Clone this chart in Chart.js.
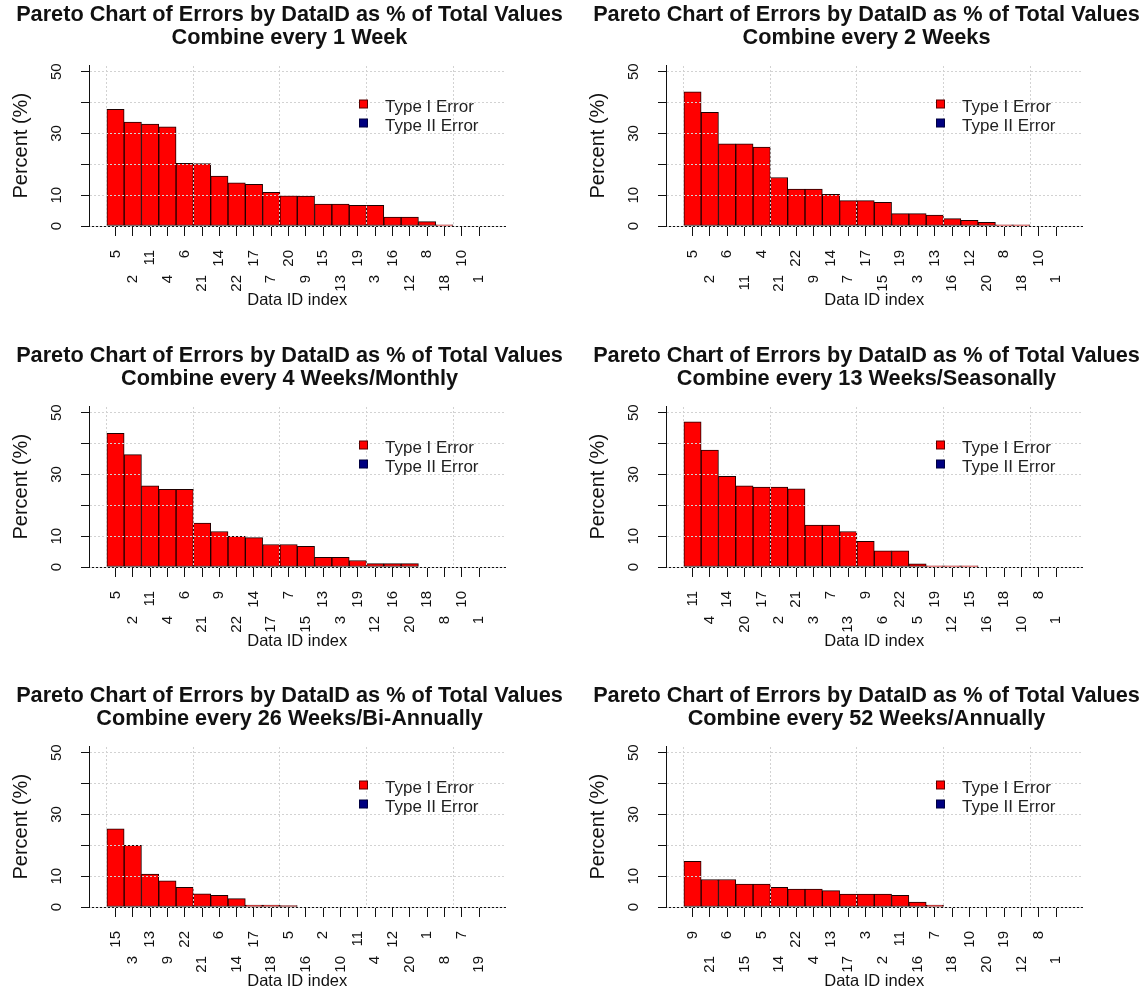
<!DOCTYPE html>
<html>
<head>
<meta charset="utf-8">
<title>Pareto Chart of Errors by DataID</title>
<script src="https://cdn.jsdelivr.net/npm/chart.js@4.4.1/dist/chart.umd.min.js"></script>
<style>
  html, body { margin: 0; padding: 0; background: #fff; }
  #page { position: relative; width: 1145px; height: 990px; overflow: hidden; background: #fff; }
  .panel { position: absolute; width: 579px; height: 341px; }
</style>
</head>
<body>
<div id="page">
  <div class="panel" style="left:0px;top:0px"><canvas id="c1" width="579" height="341"></canvas></div>
  <div class="panel" style="left:577px;top:0px"><canvas id="c2" width="579" height="341"></canvas></div>
  <div class="panel" style="left:0px;top:341px"><canvas id="c3" width="579" height="341"></canvas></div>
  <div class="panel" style="left:577px;top:341px"><canvas id="c4" width="579" height="341"></canvas></div>
  <div class="panel" style="left:0px;top:681px"><canvas id="c5" width="579" height="341"></canvas></div>
  <div class="panel" style="left:577px;top:681px"><canvas id="c6" width="579" height="341"></canvas></div>
</div>
<script>
// values (percent of total values)
const mainTitle = "Pareto Chart of Errors by DataID as % of Total Values";

const ids1Week = [5, 2, 11, 4, 6, 21, 14, 22, 17, 7, 20, 9, 15, 13, 19, 3, 16, 12, 8, 18, 10, 1];
const pct1Week = [37.8, 33.7, 33.0, 32.1, 20.3, 20.2, 16.2, 14.0, 13.5, 10.9, 9.8, 9.7, 7.1, 7.1, 6.7, 6.7, 2.9, 2.9, 1.4, 0.4, 0, 0];

const ids2Weeks = [5, 2, 6, 11, 4, 21, 22, 9, 14, 7, 17, 15, 19, 3, 13, 16, 12, 20, 8, 18, 10, 1];
const pct2Weeks = [43.5, 36.8, 26.6, 26.6, 25.6, 15.7, 12.0, 12.0, 10.3, 8.2, 8.2, 7.7, 4.0, 4.0, 3.5, 2.4, 1.8, 1.2, 0.4, 0.4, 0, 0];

const ids4Weeks = [5, 2, 11, 4, 6, 21, 9, 22, 14, 17, 7, 15, 13, 3, 19, 12, 16, 20, 18, 8, 10, 1];
const pct4Weeks = [43.3, 36.4, 26.3, 25.2, 25.2, 14.2, 11.5, 9.9, 9.5, 7.3, 7.3, 6.7, 3.1, 3.1, 2.1, 1.1, 1.1, 1.1, 0, 0, 0, 0];

const ids13Weeks = [11, 4, 14, 20, 17, 2, 21, 3, 7, 13, 9, 6, 22, 5, 19, 12, 15, 16, 18, 10, 8, 1];
const pct13Weeks = [47.0, 37.9, 29.4, 26.3, 25.9, 25.9, 25.3, 13.6, 13.6, 11.5, 8.3, 5.2, 5.2, 1.0, 0.4, 0.4, 0.4, 0, 0, 0, 0, 0];

const ids26Weeks = [15, 3, 13, 9, 22, 21, 6, 14, 17, 18, 5, 16, 2, 10, 11, 4, 12, 20, 1, 8, 7, 19];
const pct26Weeks = [25.3, 20.0, 10.7, 8.5, 6.4, 4.3, 3.8, 2.7, 0.6, 0.6, 0.5, 0, 0, 0, 0, 0, 0, 0, 0, 0, 0, 0];

const ids52Weeks = [9, 21, 6, 15, 5, 14, 22, 4, 13, 17, 3, 2, 11, 16, 7, 18, 10, 20, 19, 12, 8, 1];
const pct52Weeks = [14.8, 8.9, 8.9, 7.4, 7.4, 6.4, 5.8, 5.8, 5.3, 4.2, 4.2, 4.2, 3.8, 1.6, 0.6, 0, 0, 0, 0, 0, 0, 0];

// no Type II errors show in any panel
const typeII = [0, 0, 0, 0, 0, 0, 0, 0, 0, 0, 0, 0, 0, 0, 0, 0, 0, 0, 0, 0, 0, 0];

const yTicks = [0, 10, 20, 30, 40, 50];
const yTickLabels = ["0", "10", "", "30", "", "50"];
const gridBreaks = [0, 5, 10, 15, 20];

const FONT = "'Liberation Sans', Arial, Helvetica, sans-serif";
const INK = "#111";
const GRID = "#d2d2d2";

Chart.defaults.font.family = FONT;
Chart.defaults.color = INK;

// R-style legend sitting inside the plot, top right
const insetLegend = {
    id: "insetLegend",
    afterDraw(chart) {
        const { ctx, chartArea } = chart;
        ctx.save();
        ctx.font = "17px " + FONT;
        ctx.textBaseline = "middle";
        ctx.textAlign = "left";
        chart.data.datasets.forEach((ds, i) => {
            const cx = chartArea.right - 142;
            const cy = chartArea.top + 38.5 + i * 19;
            ctx.fillStyle = ds.backgroundColor;
            ctx.fillRect(cx - 4, cy - 4, 8, 8);
            ctx.strokeStyle = ds.legendEdge;
            ctx.lineWidth = 1;
            ctx.strokeRect(cx - 4, cy - 4, 8, 8);
            ctx.fillStyle = "#222";
            ctx.fillText(ds.label, chartArea.right - 120.5, cy + 3.5);
        });
        ctx.restore();
    }
};

function makePareto(canvasId, subtitle, ids, pct) {
    const xMin = -1.03;
    const xMax = ids.length + 1.03;
    new Chart(document.getElementById(canvasId), {
        type: "bar",
        data: {
            datasets: [{
                label: "Type I Error",
                data: pct.map((v, i) => ({ x: i + 0.5, y: v })),
                backgroundColor: "#ff0000",
                borderColor: "#1e0000",
                legendEdge: "#5a0000",
                borderWidth: 1,
                borderSkipped: false,
                barPercentage: 1,
                categoryPercentage: 1
            }, {
                label: "Type II Error",
                data: typeII.map((v, i) => ({ x: i + 0.5, y: v })),
                backgroundColor: "#000080",
                borderColor: "#000030",
                legendEdge: "#000040",
                borderWidth: 1,
                borderSkipped: false,
                barPercentage: 1,
                categoryPercentage: 1
            }]
        },
        options: {
            responsive: false,
            animation: false,
            layout: { padding: 0 },
            plugins: {
                legend: { display: false },
                tooltip: { enabled: false },
                title: {
                    display: true,
                    text: [mainTitle, subtitle],
                    color: INK,
                    font: { size: 21.7, weight: "bold", lineHeight: 1.06 },
                    padding: { top: 3.5, bottom: 16 }
                }
            },
            scales: {
                x: {
                    type: "linear",
                    position: "bottom",
                    offset: false,
                    min: xMin,
                    max: xMax,
                    stacked: true,
                    afterBuildTicks: (s) => { s.ticks = ids.map((_, i) => ({ value: i + 0.5 })); },
                    afterFit: (s) => { s.height = 115; },
                    ticks: {
                        autoSkip: false,
                        minRotation: 90,
                        maxRotation: 90,
                        padding: 14,
                        color: INK,
                        font: { size: 15 },
                        // every second label is pushed down, as in the reference
                        callback: (v, i) => (i % 2 ? String(ids[i]) + "      " : String(ids[i]))
                    },
                    grid: { offset: false, drawOnChartArea: false, drawTicks: true, tickLength: 10, tickColor: INK, tickWidth: 1 },
                    border: { display: true, color: INK, width: 1 },
                    title: {
                        display: true,
                        text: "Data ID index",
                        color: INK,
                        font: { size: 16.5 },
                        padding: { top: 0, bottom: 31 }
                    }
                },
                xGrid: {
                    type: "linear",
                    position: "top",
                    offset: false,
                    min: xMin,
                    max: xMax,
                    afterBuildTicks: (s) => { s.ticks = gridBreaks.map((v) => ({ value: v })); },
                    afterFit: (s) => { s.height = 0; },
                    ticks: { display: false },
                    grid: { offset: false, color: GRID, lineWidth: 1, drawTicks: false, z: 1, borderDash: [2, 2] },
                    border: { display: false, dash: [2, 2] }
                },
                y: {
                    stacked: true,
                    min: 0,
                    max: 52,
                    afterBuildTicks: (s) => { s.ticks = yTicks.map((v) => ({ value: v })); },
                    afterFit: (s) => { s.width = 89; },
                    ticks: {
                        autoSkip: false,
                        minRotation: 90,
                        maxRotation: 90,
                        crossAlign: "center",
                        padding: 16,
                        color: INK,
                        font: { size: 15 },
                        callback: (v, i) => yTickLabels[i]
                    },
                    grid: {
                        color: GRID, lineWidth: 1, z: 1, borderDash: [2, 2],
                        tickColor: INK, tickLength: 8, tickWidth: 1, tickBorderDash: []
                    },
                    border: { display: true, color: INK, width: 1, dash: [2, 2], z: 2 },
                    title: {
                        display: true,
                        text: "Percent (%)",
                        color: INK,
                        font: { size: 20 },
                        padding: { top: 9.7, bottom: 0 }
                    }
                },
                // empty right margin, so the title centres on the whole panel
                yPad: {
                    type: "linear",
                    position: "right",
                    afterFit: (s) => { s.width = 73.5; },
                    ticks: { display: false },
                    grid: { display: false, drawTicks: false },
                    border: { display: false }
                }
            }
        },
        plugins: [insetLegend]
    });
}

makePareto("c1", "Combine every 1 Week", ids1Week, pct1Week);
makePareto("c2", "Combine every 2 Weeks", ids2Weeks, pct2Weeks);
makePareto("c3", "Combine every 4 Weeks/Monthly", ids4Weeks, pct4Weeks);
makePareto("c4", "Combine every 13 Weeks/Seasonally", ids13Weeks, pct13Weeks);
makePareto("c5", "Combine every 26 Weeks/Bi-Annually", ids26Weeks, pct26Weeks);
makePareto("c6", "Combine every 52 Weeks/Annually", ids52Weeks, pct52Weeks);
</script>
</body>
</html>
